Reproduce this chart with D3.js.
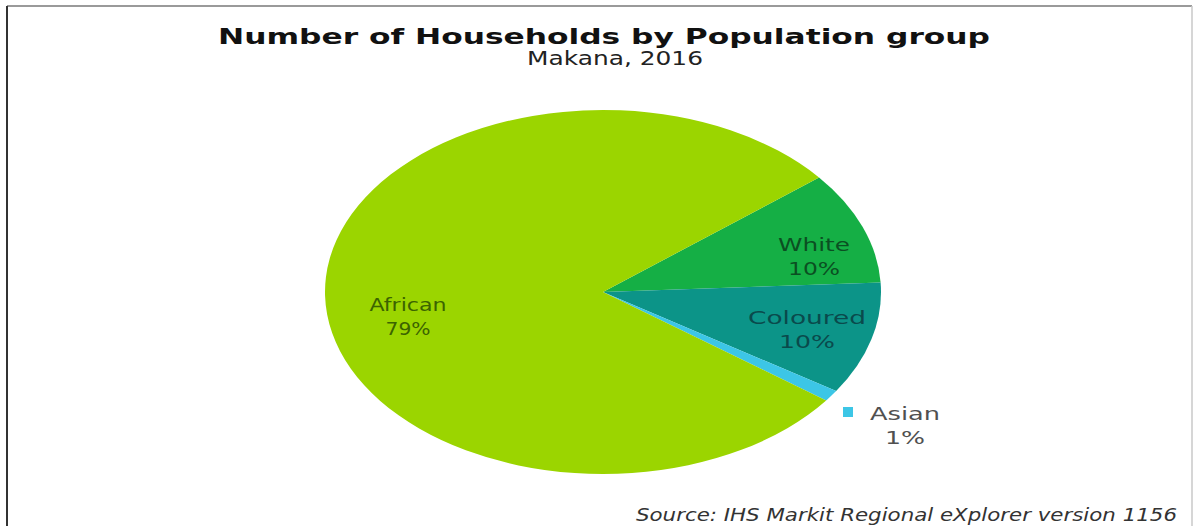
<!DOCTYPE html>
<html>
<head>
<meta charset="utf-8">
<script src="https://cdn.jsdelivr.net/npm/d3@7"></script>
<style>
  html, body { margin: 0; padding: 0; background: #ffffff; }
  svg { display: block; }
</style>
</head>
<body>
<script>
// Population groups, drawn clockwise starting from White
const groups = ["White", "Coloured", "Asian", "African"];
const shares = [10, 10, 1, 79];
const sliceColors = ["#15af45", "#0c9488", "#3cc6e6", "#9bd500"];
const labelColors = ["#0b4f22", "#0a4a4c", "#505050", "#3b6400"];

const W = 1195, H = 526;
const FONT = "DejaVu Sans, Verdana, sans-serif";
const svg = d3.select("body").append("svg").attr("width", W).attr("height", H);

// Frame
svg.append("line").attr("x1", 7).attr("y1", 6).attr("x2", 1192).attr("y2", 6)
  .attr("stroke", "#9a9a9a").attr("stroke-width", 2);
svg.append("line").attr("x1", 7).attr("y1", 6).attr("x2", 7).attr("y2", H)
  .attr("stroke", "#333333").attr("stroke-width", 2);
svg.append("line").attr("x1", 1192).attr("y1", 6).attr("x2", 1192).attr("y2", H)
  .attr("stroke", "#c8c8c8").attr("stroke-width", 1.5);

// Wide, horizontally stretched text
function wideText(parent, x, y, str, size, width, opts = {}) {
  return parent.append("text")
    .attr("x", x).attr("y", y).attr("text-anchor", "middle")
    .attr("font-family", FONT).attr("font-size", size)
    .attr("font-weight", opts.weight || "normal")
    .attr("font-style", opts.style || "normal")
    .attr("fill", opts.fill || "#222")
    .attr("textLength", width).attr("lengthAdjust", "spacingAndGlyphs")
    .text(str);
}

// Titles
wideText(svg, 604, 44, "Number of Households by Population group", 22, 772,
  { weight: "bold", fill: "#111" });
wideText(svg, 615, 65, "Makana, 2016", 19, 176, { fill: "#222" });

// Pie, drawn as a circle and stretched into an ellipse
const cx = 603, cy = 292, rx = 278, ry = 182;
const pie = d3.pie().sort(null).value(d => d)
  .startAngle(51 * Math.PI / 180).endAngle((51 + 360) * Math.PI / 180);
const arcs = pie(shares);
const arc = d3.arc().innerRadius(0).outerRadius(ry);

const g = svg.append("g").attr("transform", `translate(${cx},${cy}) scale(${rx / ry},1)`);
g.selectAll("path").data(arcs).join("path")
  .attr("d", arc)
  .attr("fill", (d, i) => sliceColors[i]);

// Slice labels
const labelPos = { White: [814, 251], Coloured: [807, 324], Asian: [905, 420], African: [408, 311] };
const nameWidth = { White: 72, Coloured: 118, Asian: 70, African: 77 };
const pctWidth = { White: 52, Coloured: 56, Asian: 40, African: 45 };
arcs.forEach((d, i) => {
  const name = groups[i];
  const [x, y] = labelPos[name];
  if (name === "Asian") {
    svg.append("rect").attr("x", 843).attr("y", 407).attr("width", 10).attr("height", 10)
      .attr("fill", sliceColors[i]);
  }
  wideText(svg, x, y, name, 18, nameWidth[name], { fill: labelColors[i] });
  wideText(svg, x, y + 24, d3.format(".0f")(d.data) + "%", 18, pctWidth[name], { fill: labelColors[i] });
});

// Source note
svg.append("text").attr("x", 1177).attr("y", 521).attr("text-anchor", "end")
  .attr("font-family", FONT).attr("font-style", "italic")
  .attr("font-size", 17).attr("fill", "#333")
  .attr("textLength", 541).attr("lengthAdjust", "spacingAndGlyphs")
  .text("Source: IHS Markit Regional eXplorer version 1156");
</script>
</body>
</html>
